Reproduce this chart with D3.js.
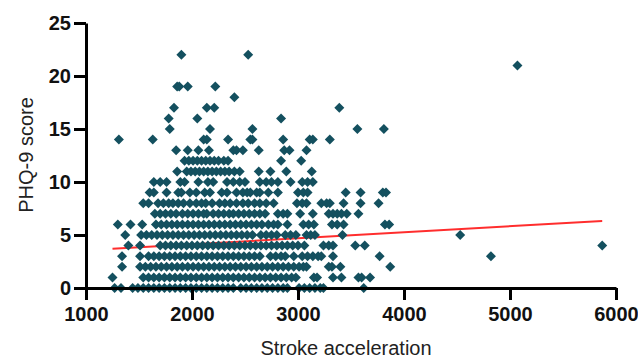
<!DOCTYPE html>
<html>
<head>
<meta charset="utf-8">
<script src="https://cdn.jsdelivr.net/npm/d3@7"></script>
<style>
  body { margin: 0; background: #fff; }
  svg { display: block; }
</style>
</head>
<body>
<script>
// PHQ-9 score levels and the stroke acceleration of each subject at that level
const scores = [0, 1, 2, 3, 4, 5, 6, 7, 8, 9, 10, 11, 12, 13, 14, 15, 16, 17, 18, 19, 20, 21, 22];

const s0 = [1270, 1330, 1440, 1490, 1540, 1590, 1640, 1690, 1740, 1790, 1840, 1890, 1940, 1990, 2040, 2090, 2140, 2190, 2240, 2290, 2340, 2390, 2460, 2510, 2560, 2610, 2660, 2710, 2760, 2810, 2860, 2900, 3010, 3060, 3110, 3160, 3210, 3240, 3620];
const s1 = [1250, 1540, 1590, 1640, 1690, 1740, 1790, 1840, 1890, 1940, 1990, 2040, 2090, 2140, 2190, 2240, 2290, 2340, 2390, 2440, 2490, 2540, 2590, 2640, 2690, 2740, 2790, 2840, 2890, 2940, 2980, 3150, 3180, 3330, 3410, 3570, 3600, 3680];
const s2 = [1340, 1510, 1560, 1610, 1660, 1710, 1760, 1810, 1860, 1910, 1960, 2010, 2060, 2110, 2160, 2210, 2260, 2310, 2360, 2410, 2460, 2510, 2560, 2610, 2660, 2710, 2760, 2810, 2860, 2910, 2960, 3010, 3050, 3080, 3290, 3320, 3400, 3870];
const s3 = [1340, 1510, 1590, 1640, 1690, 1740, 1790, 1840, 1890, 1940, 1990, 2040, 2090, 2140, 2190, 2240, 2290, 2340, 2390, 2440, 2490, 2540, 2590, 2640, 2740, 2790, 2840, 2880, 2960, 3040, 3090, 3140, 3190, 3220, 3330, 3770, 4820];
const s4 = [1400, 1510, 1700, 1750, 1800, 1850, 1900, 1950, 2000, 2050, 2100, 2150, 2200, 2250, 2300, 2350, 2400, 2450, 2500, 2550, 2600, 2650, 2700, 2750, 2800, 2850, 2900, 2950, 3000, 3060, 3240, 3290, 3330, 3540, 3630, 5870];
const s5 = [1370, 1520, 1570, 1620, 1670, 1720, 1770, 1820, 1870, 1920, 1970, 2020, 2070, 2120, 2170, 2220, 2270, 2320, 2370, 2420, 2470, 2520, 2570, 2650, 2700, 2750, 2800, 2880, 2930, 2980, 3080, 3120, 3160, 3420, 4530];
const s6 = [1300, 1420, 1530, 1660, 1710, 1760, 1810, 1860, 1910, 1960, 2010, 2060, 2110, 2160, 2210, 2260, 2310, 2360, 2410, 2460, 2510, 2560, 2610, 2660, 2720, 2770, 2810, 2900, 3050, 3100, 3150, 3320, 3370, 3430, 3820, 3860];
const s7 = [1650, 1700, 1750, 1800, 1850, 1910, 1960, 2010, 2060, 2110, 2140, 2200, 2250, 2300, 2350, 2390, 2440, 2490, 2540, 2590, 2640, 2690, 2810, 2860, 2900, 3020, 3140, 3290, 3330, 3370, 3410, 3460, 3570];
const s8 = [1540, 1590, 1680, 1730, 1780, 1820, 1870, 1920, 1980, 2040, 2090, 2130, 2190, 2260, 2310, 2360, 2420, 2480, 2530, 2590, 2640, 2700, 2770, 2990, 3040, 3080, 3220, 3270, 3300, 3430, 3590, 3760];
const s9 = [1600, 1640, 1760, 1870, 1900, 1980, 2040, 2120, 2170, 2280, 2330, 2420, 2480, 2520, 2550, 2610, 2640, 2720, 2810, 3000, 3050, 3090, 3450, 3590, 3800, 3830];
const s10 = [1640, 1700, 1760, 1890, 1930, 2060, 2150, 2200, 2330, 2390, 2450, 2500, 2640, 2700, 2750, 2810, 2930, 3040, 3090, 3140];
const s11 = [1860, 1950, 1990, 2030, 2070, 2110, 2150, 2190, 2230, 2270, 2310, 2350, 2400, 2450, 2630, 2740, 2890, 3130];
const s12 = [1930, 1970, 2010, 2050, 2090, 2130, 2170, 2210, 2250, 2300, 2340, 2840, 3030];
const s13 = [1850, 1960, 2060, 2160, 2390, 2420, 2480, 2630, 2870, 2920, 3080];
const s14 = [1310, 1630, 2110, 2140, 2340, 2550, 2570, 2860, 3110, 3140, 3300];
const s15 = [1790, 2170, 2570, 3560, 3810];
const s16 = [1780, 2050, 2840];
const s17 = [1830, 2140, 2210, 3390];
const s18 = [2400];
const s19 = [1860, 1880, 1960, 2220];
const s20 = [];
const s21 = [5070];
const s22 = [1900, 2530];
const strokeRows = [s0, s1, s2, s3, s4, s5, s6, s7, s8, s9, s10, s11, s12, s13, s14, s15, s16, s17, s18, s19, s20, s21, s22];

// linear regression line end points
const fitX = [1250, 5870];
const fitY = [3.7, 6.32];

const xTicks = [1000, 2000, 3000, 4000, 5000, 6000];
const yTicks = [0, 5, 10, 15, 20, 25];

const width = 638, height = 359;
const dotColor = "#14505f";
const font = "'Liberation Sans', Arial, sans-serif";

const x = d3.scaleLinear().domain([1000, 6000]).range([86, 616]);
const y = d3.scaleLinear().domain([0, 25]).range([288, 23]);

const svg = d3.select("body").append("svg")
    .attr("width", width)
    .attr("height", height);

// points as {stroke, score}
const points = [];
scores.forEach((sc, i) => {
  strokeRows[i].forEach(v => points.push({ stroke: v, score: sc }));
});

// regression line (under the points)
svg.append("line")
    .attr("x1", x(fitX[0])).attr("y1", y(fitY[0]))
    .attr("x2", x(fitX[1])).attr("y2", y(fitY[1]))
    .attr("stroke", "#ff2d2d")
    .attr("stroke-width", 2);

const diamond = d3.symbol().type(d3.symbolSquare).size(50);

svg.append("g")
  .selectAll("path")
  .data(points)
  .enter()
  .append("path")
    .attr("d", diamond)
    .attr("transform", d => "translate(" + x(d.stroke) + "," + y(d.score) + ") rotate(45)")
    .attr("fill", dotColor);

// axes
const xAxis = svg.append("g")
    .attr("transform", "translate(0,288)")
    .call(d3.axisBottom(x).tickValues(xTicks).tickFormat(d3.format("d")).tickSize(12).tickSizeOuter(0).tickPadding(7));

const yAxis = svg.append("g")
    .attr("transform", "translate(86,0)")
    .call(d3.axisLeft(y).tickValues(yTicks).tickSize(12).tickSizeOuter(0).tickPadding(3));

[xAxis, yAxis].forEach(a => {
  a.select(".domain").attr("stroke", "#000").attr("stroke-width", 3);
  a.selectAll(".tick line").attr("stroke", "#000").attr("stroke-width", 3);
  a.selectAll(".tick text")
      .attr("fill", "#111")
      .style("font-family", font)
      .style("font-size", "20px")
      .style("font-weight", "bold");
});

// axis titles
svg.append("text")
    .attr("x", 346)
    .attr("y", 355)
    .attr("text-anchor", "middle")
    .style("font-family", font)
    .style("font-size", "20px")
    .attr("fill", "#222")
    .text("Stroke acceleration");

svg.append("text")
    .attr("transform", "translate(33,155) rotate(-90)")
    .attr("text-anchor", "middle")
    .style("font-family", font)
    .style("font-size", "20px")
    .attr("fill", "#222")
    .text("PHQ-9 score");
</script>
</body>
</html>
